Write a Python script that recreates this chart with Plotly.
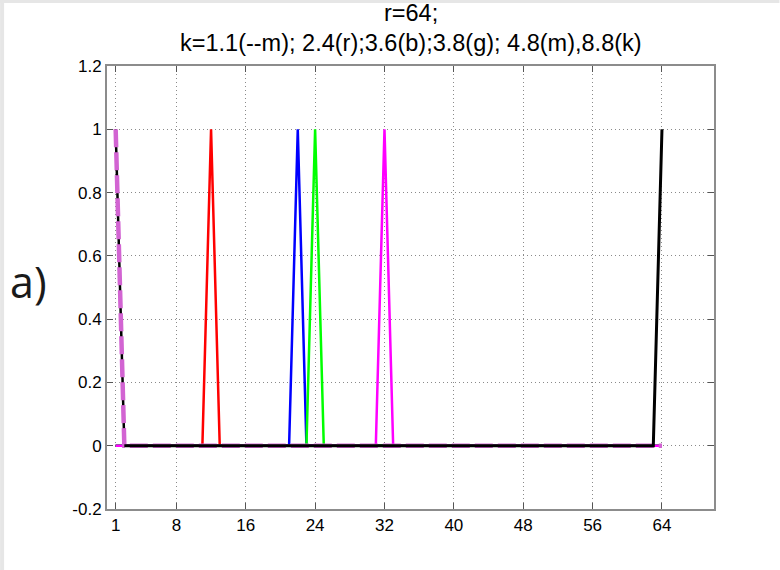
import plotly.graph_objects as go

x = list(range(1, 65))

# k=1.1 (--m)
y_m_dash = [1, 0, 0, 0, 0, 0, 0, 0, 0, 0, 0, 0, 0, 0, 0, 0, 0, 0, 0, 0, 0, 0, 0, 0, 0, 0, 0, 0, 0, 0, 0, 0,
            0, 0, 0, 0, 0, 0, 0, 0, 0, 0, 0, 0, 0, 0, 0, 0, 0, 0, 0, 0, 0, 0, 0, 0, 0, 0, 0, 0, 0, 0, 0, 0]
# k=2.4 (r)
y_r = [0, 0, 0, 0, 0, 0, 0, 0, 0, 0, 0, 1, 0, 0, 0, 0, 0, 0, 0, 0, 0, 0, 0, 0, 0, 0, 0, 0, 0, 0, 0, 0,
       0, 0, 0, 0, 0, 0, 0, 0, 0, 0, 0, 0, 0, 0, 0, 0, 0, 0, 0, 0, 0, 0, 0, 0, 0, 0, 0, 0, 0, 0, 0, 0]
# k=3.6 (b)
y_b = [0, 0, 0, 0, 0, 0, 0, 0, 0, 0, 0, 0, 0, 0, 0, 0, 0, 0, 0, 0, 0, 1, 0, 0, 0, 0, 0, 0, 0, 0, 0, 0,
       0, 0, 0, 0, 0, 0, 0, 0, 0, 0, 0, 0, 0, 0, 0, 0, 0, 0, 0, 0, 0, 0, 0, 0, 0, 0, 0, 0, 0, 0, 0, 0]
# k=3.8 (g)
y_g = [0, 0, 0, 0, 0, 0, 0, 0, 0, 0, 0, 0, 0, 0, 0, 0, 0, 0, 0, 0, 0, 0, 0, 1, 0, 0, 0, 0, 0, 0, 0, 0,
       0, 0, 0, 0, 0, 0, 0, 0, 0, 0, 0, 0, 0, 0, 0, 0, 0, 0, 0, 0, 0, 0, 0, 0, 0, 0, 0, 0, 0, 0, 0, 0]
# k=4.8 (m)
y_m = [0, 0, 0, 0, 0, 0, 0, 0, 0, 0, 0, 0, 0, 0, 0, 0, 0, 0, 0, 0, 0, 0, 0, 0, 0, 0, 0, 0, 0, 0, 0, 1,
       0, 0, 0, 0, 0, 0, 0, 0, 0, 0, 0, 0, 0, 0, 0, 0, 0, 0, 0, 0, 0, 0, 0, 0, 0, 0, 0, 0, 0, 0, 0, 0]
# k=8.8 (k)
y_k = [1, 0, 0, 0, 0, 0, 0, 0, 0, 0, 0, 0, 0, 0, 0, 0, 0, 0, 0, 0, 0, 0, 0, 0, 0, 0, 0, 0, 0, 0, 0, 0,
       0, 0, 0, 0, 0, 0, 0, 0, 0, 0, 0, 0, 0, 0, 0, 0, 0, 0, 0, 0, 0, 0, 0, 0, 0, 0, 0, 0, 0, 0, 0, 1]

x_ticks = [1, 8, 16, 24, 32, 40, 48, 56, 64]
y_ticks = [-0.2, 0, 0.2, 0.4, 0.6, 0.8, 1, 1.2]
y_tick_labels = ["-0.2", "0", "0.2", "0.4", "0.6", "0.8", "1", "1.2"]

title1 = "r=64;"
title2 = "k=1.1(--m); 2.4(r);3.6(b);3.8(g); 4.8(m),8.8(k)"
panel_label = "a)"

fig = go.Figure()
fig.add_trace(go.Scatter(x=x, y=y_r, mode="lines", line=dict(color="#ff0000", width=2.5)))
fig.add_trace(go.Scatter(x=x, y=y_b, mode="lines", line=dict(color="#0000ff", width=2.5)))
fig.add_trace(go.Scatter(x=x, y=y_g, mode="lines", line=dict(color="#00ff00", width=2.5)))
fig.add_trace(go.Scatter(x=x, y=y_m, mode="lines", line=dict(color="#ff00ff", width=2.5)))
# first segment of the black series lies under the dashed magenta line
fig.add_trace(go.Scatter(x=x[:2], y=y_k[:2], mode="lines", line=dict(color="#000000", width=2.5)))
fig.add_trace(go.Scatter(x=x, y=y_m_dash, mode="lines",
                         line=dict(color="#d264d2", width=4.5, dash="18px,5px")))
fig.add_trace(go.Scatter(x=x[1:], y=y_k[1:], mode="lines", line=dict(color="#000000", width=3)))

L, R, T, B = 107, 65.5, 66, 61
W, H = 780, 570
pw = W - L - R
ph = H - T - B

def px2x(px):
    return (px - L) / pw

def py2y(py):
    return (H - B - py) / ph

axis_common = dict(
    showline=True, linecolor="#8c8c8c", linewidth=2, mirror="ticks",
    ticks="inside", ticklen=6, tickcolor="#555555", tickwidth=1,
    showgrid=True, gridcolor="#8a8a8a", gridwidth=1, griddash="1px,3px",
    zeroline=False, tickfont=dict(family="Liberation Sans, Arial", size=17, color="#000"),
)

fig.update_xaxes(range=[0, 70], tickmode="array", tickvals=x_ticks,
                 ticktext=[str(v) for v in x_ticks], **axis_common)
fig.update_yaxes(range=[-0.2, 1.2], tickmode="array", tickvals=y_ticks,
                 ticktext=y_tick_labels, **axis_common)

border = "#e6e6e6"
fig.update_layout(
    width=W, height=H,
    margin=dict(l=L, r=R, t=T, b=B, pad=0),
    paper_bgcolor="white", plot_bgcolor="white",
    showlegend=False,
    shapes=[
        dict(type="rect", xref="paper", yref="paper", layer="below",
             x0=px2x(0), x1=px2x(W), y0=py2y(3), y1=py2y(0),
             fillcolor=border, line=dict(width=0)),
        dict(type="rect", xref="paper", yref="paper", layer="below",
             x0=px2x(0), x1=px2x(4), y0=py2y(H), y1=py2y(0),
             fillcolor=border, line=dict(width=0)),
    ],
    annotations=[
        dict(text=title1, xref="paper", yref="paper", x=px2x(411), y=py2y(13),
             xanchor="center", yanchor="middle", showarrow=False,
             font=dict(family="Liberation Sans, Arial", size=23.5, color="#000")),
        dict(text=title2, xref="paper", yref="paper", x=px2x(411), y=py2y(43),
             xanchor="center", yanchor="middle", showarrow=False,
             font=dict(family="Liberation Sans, Arial", size=23.5, color="#000")),
        dict(text=panel_label, xref="paper", yref="paper", x=px2x(28), y=py2y(281),
             xanchor="center", yanchor="middle", showarrow=False,
             font=dict(family="Open Sans", size=43, color="#1a1a1a")),
    ],
)

fig.write_html("out.html")
